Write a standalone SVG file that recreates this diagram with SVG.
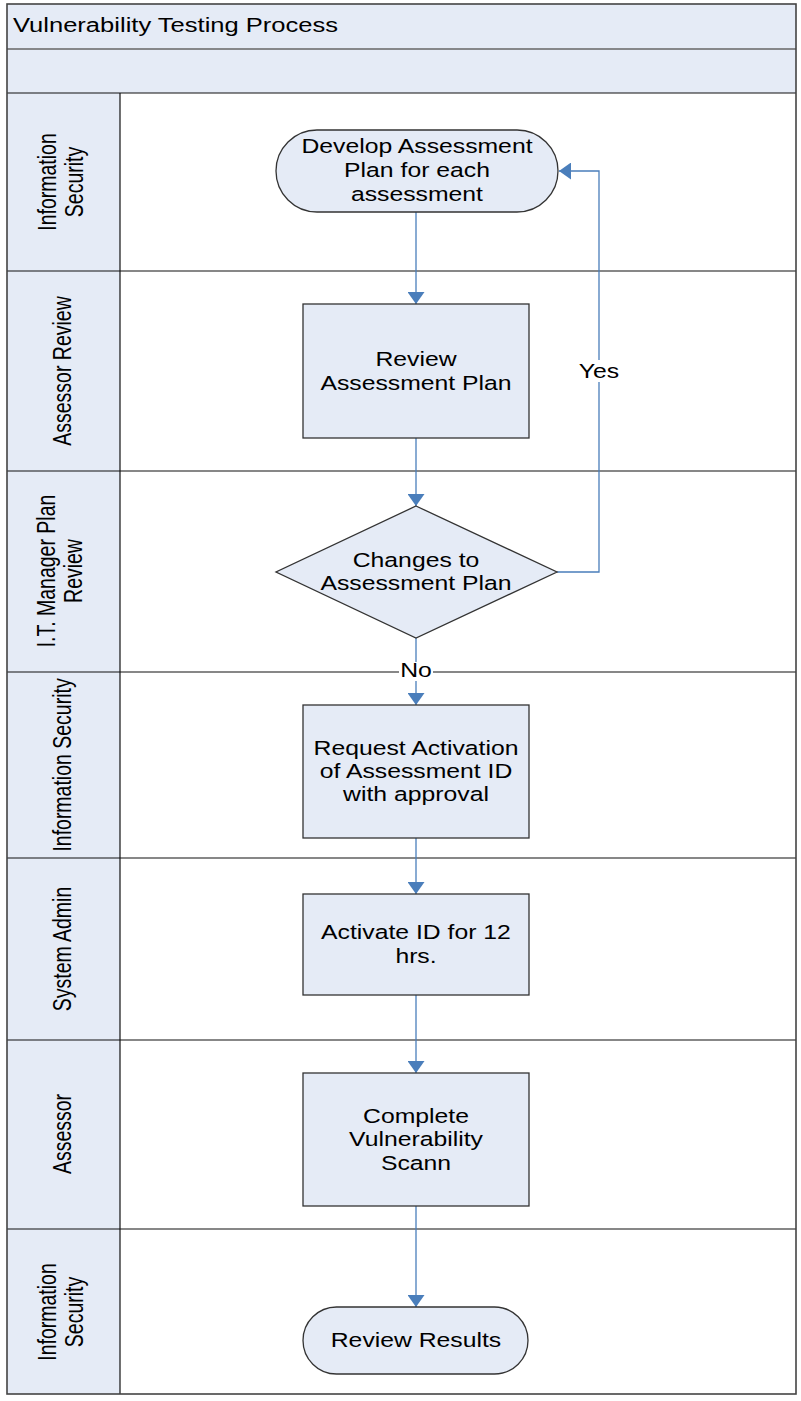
<svg xmlns="http://www.w3.org/2000/svg" width="801" height="1401" viewBox="0 0 801 1401">
<style>
.t{font-family:"Liberation Sans",Arial,sans-serif;font-size:19.5px;fill:#000;text-anchor:middle}
.ts{font-family:"Liberation Sans",Arial,sans-serif;font-size:19.5px;fill:#000}
.lbl{font-family:"Liberation Sans",Arial,sans-serif;font-size:19.5px;fill:#000;text-anchor:middle}
.node{fill:#e5ebf6;stroke:#333;stroke-width:1.3}
.sep{stroke:#111;stroke-width:1.2;fill:none}
.conn{stroke:#4a7ebb;stroke-width:1.3;fill:none}
</style>
<defs>
<marker id="arr" viewBox="0 0 12 17" refX="12" refY="8.5" markerWidth="12" markerHeight="17" markerUnits="userSpaceOnUse" orient="auto">
<path d="M0,0 L12,8.5 L0,17 z" fill="#4a7ebb"/>
</marker>
</defs>

<g id="pool">
<rect x="7" y="4" width="789" height="1390" fill="#fff"/>
<rect x="7" y="4" width="789" height="45" fill="#e5ebf6"/>
<rect x="7" y="49" width="789" height="44" fill="#e5ebf6"/>
<line x1="7" y1="49" x2="796" y2="49" stroke="#666" stroke-width="1.5"/>
<text class="ts" transform="translate(13,32) scale(1.31,1)">Vulnerability Testing Process</text>
</g>

<g id="lanes">
<rect x="7" y="93" width="113" height="1301" fill="#e5ebf6"/>
<line class="sep" x1="7" y1="93" x2="796" y2="93"/>
<line class="sep" x1="7" y1="271" x2="796" y2="271"/>
<line class="sep" x1="7" y1="471" x2="796" y2="471"/>
<line class="sep" x1="7" y1="672" x2="796" y2="672"/>
<line class="sep" x1="7" y1="858" x2="796" y2="858"/>
<line class="sep" x1="7" y1="1040" x2="796" y2="1040"/>
<line class="sep" x1="7" y1="1229" x2="796" y2="1229"/>
<line class="sep" x1="120" y1="93" x2="120" y2="1394"/>
<text class="lbl" transform="translate(56,182) scale(1.28,1) rotate(-90)">Information</text>
<text class="lbl" transform="translate(83,182) scale(1.28,1) rotate(-90)">Security</text>
<text class="lbl" transform="translate(71,371) scale(1.28,1) rotate(-90)">Assessor Review</text>
<text class="lbl" transform="translate(55,571) scale(1.28,1) rotate(-90)">I.T. Manager Plan</text>
<text class="lbl" transform="translate(82,571) scale(1.28,1) rotate(-90)">Review</text>
<text class="lbl" transform="translate(71,765) scale(1.28,1) rotate(-90)">Information Security</text>
<text class="lbl" transform="translate(71,949) scale(1.28,1) rotate(-90)">System Admin</text>
<text class="lbl" transform="translate(71,1134) scale(1.28,1) rotate(-90)">Assessor</text>
<text class="lbl" transform="translate(56,1312) scale(1.28,1) rotate(-90)">Information</text>
<text class="lbl" transform="translate(83,1312) scale(1.28,1) rotate(-90)">Security</text>
</g>

<rect x="7" y="4" width="789" height="1390" fill="none" stroke="#444" stroke-width="1.6"/>

<g id="connectors">
<line class="conn" x1="416" y1="212" x2="416" y2="304" marker-end="url(#arr)"/>
<line class="conn" x1="416" y1="438" x2="416" y2="506" marker-end="url(#arr)"/>
<polyline class="conn" points="557,572 599,572 599,171 559,171" marker-end="url(#arr)"/>
<line class="conn" x1="416" y1="638" x2="416" y2="705" marker-end="url(#arr)"/>
<line class="conn" x1="416" y1="838" x2="416" y2="894" marker-end="url(#arr)"/>
<line class="conn" x1="416" y1="995" x2="416" y2="1073" marker-end="url(#arr)"/>
<line class="conn" x1="416" y1="1206" x2="416" y2="1307" marker-end="url(#arr)"/>
<rect x="578" y="360" width="43" height="22" fill="#fff"/>
<text class="t" transform="translate(599,378) scale(1.27,1)">Yes</text>
<rect x="399" y="662" width="34" height="19" fill="#fff"/>
<text class="t" transform="translate(416,677) scale(1.27,1)">No</text>
</g>

<g id="n1">
<rect class="node" x="276" y="130" width="282" height="82" rx="41" ry="41"/>
<text class="t" transform="translate(417,153) scale(1.27,1)">Develop Assessment</text>
<text class="t" transform="translate(417,177) scale(1.27,1)">Plan for each</text>
<text class="t" transform="translate(417,201) scale(1.27,1)">assessment</text>
</g>
<g id="n2">
<rect class="node" x="303" y="304" width="226" height="134"/>
<text class="t" transform="translate(416,366) scale(1.27,1)">Review</text>
<text class="t" transform="translate(416,390) scale(1.27,1)">Assessment Plan</text>
</g>
<g id="n3">
<polygon class="node" points="416,506 557,572 416,638 276,572"/>
<text class="t" transform="translate(416,567) scale(1.27,1)">Changes to</text>
<text class="t" transform="translate(416,590) scale(1.27,1)">Assessment Plan</text>
</g>
<g id="n4">
<rect class="node" x="303" y="705" width="226" height="133"/>
<text class="t" transform="translate(416,755) scale(1.27,1)">Request Activation</text>
<text class="t" transform="translate(416,778) scale(1.27,1)">of Assessment ID</text>
<text class="t" transform="translate(416,801) scale(1.27,1)">with approval</text>
</g>
<g id="n5">
<rect class="node" x="303" y="894" width="226" height="101"/>
<text class="t" transform="translate(416,939) scale(1.27,1)">Activate ID for 12</text>
<text class="t" transform="translate(416,963) scale(1.27,1)">hrs.</text>
</g>
<g id="n6">
<rect class="node" x="303" y="1073" width="226" height="133"/>
<text class="t" transform="translate(416,1123) scale(1.27,1)">Complete</text>
<text class="t" transform="translate(416,1146) scale(1.27,1)">Vulnerability</text>
<text class="t" transform="translate(416,1170) scale(1.27,1)">Scann</text>
</g>
<g id="n7">
<rect class="node" x="303" y="1307" width="225" height="67" rx="33.5" ry="33.5"/>
<text class="t" transform="translate(416,1347) scale(1.27,1)">Review Results</text>
</g>
</svg>
